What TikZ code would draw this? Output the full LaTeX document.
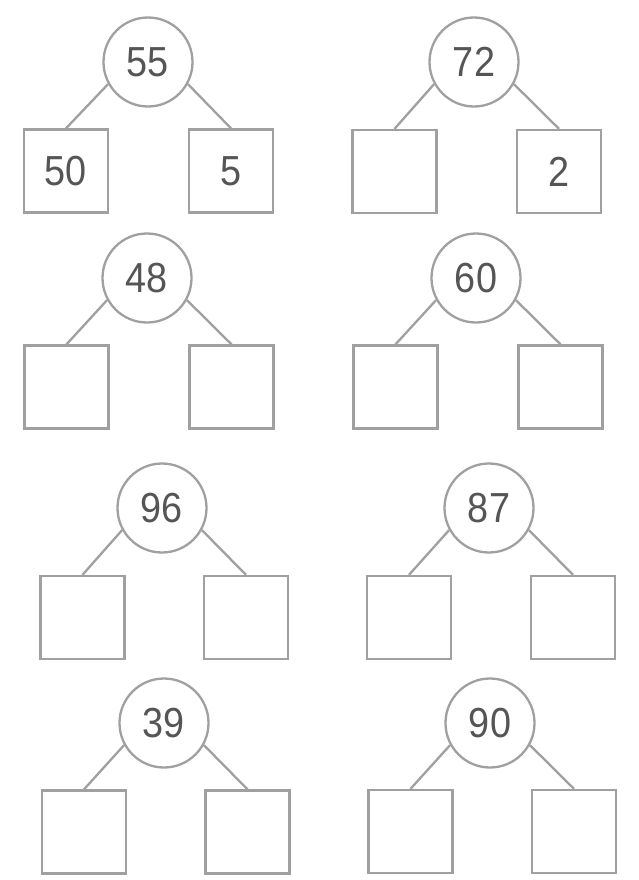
\documentclass[tikz,border=0pt]{standalone}
\usepackage{fontspec}
\setmainfont{Liberation Sans}
\definecolor{linegray}{HTML}{A0A0A0}
\definecolor{textgray}{HTML}{555555}
\tikzset{
  numcircle/.style={circle, draw=linegray, line width=2.3pt, minimum size=89pt, inner sep=0pt, text=textgray, font=\fontsize{42}{42}\selectfont},
  numbox/.style={rectangle, draw=linegray, line width=2.3pt, minimum width=84pt, minimum height=83pt, inner sep=0pt, text=textgray, font=\fontsize{42}{42}\selectfont},
  branch/.style={draw=linegray, line width=2.3pt}
}
\newcommand{\sq}[1]{\scalebox{0.9}[1]{#1}}
\newcommand{\numtree}[7]{%
  \node[numcircle] (#1c) at (#2) {\sq{#3}};
  \node[numbox] (#1l) at (#4) {\sq{#5}};
  \node[numbox] (#1r) at (#6) {\sq{#7}};
  \draw[branch] (#1c.209) -- (#1l.north);
  \draw[branch] (#1c.331) -- (#1r.north);
}
\begin{document}
\begin{tikzpicture}[x=1pt,y=-1pt]
\useasboundingbox[fill=white] (0,0) rectangle (639,880);
\numtree{a}{148,62}{55}{66,171}{50}{231,171}{5}
\numtree{b}{474,62}{72}{394.5,171.5}{}{559,171.5}{2}
\numtree{c}{147,278}{48}{66.5,387}{}{231.5,387}{}
\numtree{d}{476,278}{60}{395.5,387}{}{560.5,387}{}
\numtree{e}{162,508}{96}{82.5,617.5}{}{246,617.5}{}
\numtree{f}{489,508}{87}{409,617.5}{}{573,617.5}{}
\numtree{g}{164,723}{39}{84,832}{}{247.5,832}{}
\numtree{h}{490,723}{90}{410.5,831.5}{}{574,831.5}{}
\end{tikzpicture}
\end{document}
